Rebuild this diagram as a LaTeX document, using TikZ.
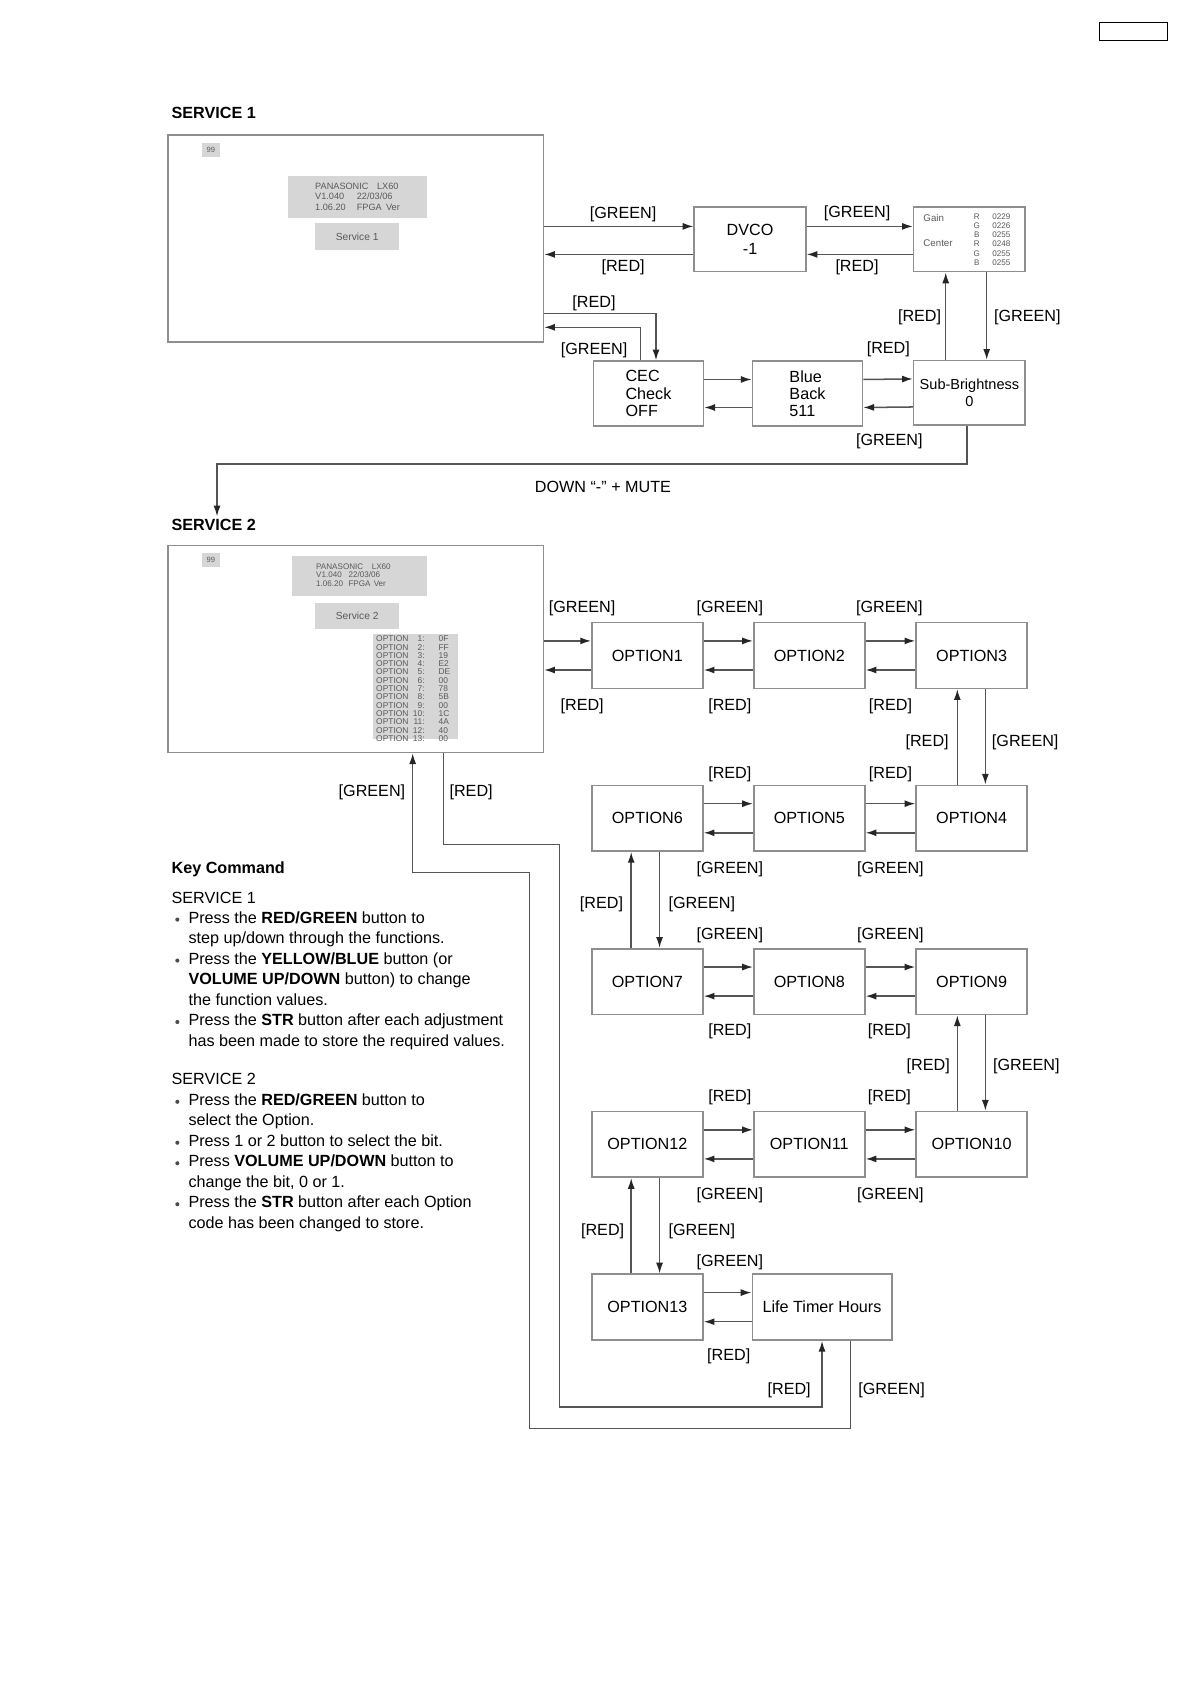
\documentclass[tikz,border=0pt]{standalone}
\usepackage{fontspec}
\setmainfont{Liberation Sans}
\usetikzlibrary{arrows.meta,calc}
\definecolor{boxgray}{HTML}{8E8E8E}
\definecolor{linegray}{HTML}{555555}
\definecolor{panelfill}{HTML}{D6D6D6}
\definecolor{paneltext}{HTML}{5A5A5A}
\newcommand{\fsz}[1]{\fontsize{#1}{#1}\selectfont}
\begin{document}
\begin{tikzpicture}[x=1pt,y=-1pt,
  box/.style={draw=boxgray, line width=1.5pt, fill=white, inner sep=0pt, minimum width=103pt, minimum height=61pt, align=center, font=\fontsize{15}{17.5}\selectfont, text=black},
  screen/.style={draw=boxgray, line width=1.5pt, fill=white, minimum width=348pt, minimum height=192pt, inner sep=0pt},
  panel/.style={fill=panelfill, draw=none, inner sep=0pt, text=paneltext},
  ptext/.style={text=paneltext, inner sep=0pt, anchor=west},
  lab/.style={inner sep=0pt, font=\fsz{15}, text height=10.7pt, text depth=0pt},
  kc/.style={lab, anchor=west},
  ttl/.style={inner sep=0pt, text height=10.7pt, text depth=0pt, anchor=west, font=\bfseries\fsz{15}},
  bul/.style={circle, fill=black!70, inner sep=0pt, minimum size=3.8pt},
  conn/.style={draw=linegray, line width=1.4pt},
  arr/.style={conn, -{Latex[length=10pt,width=6.5pt,color=black!85]}},
]
\useasboundingbox (0,0) rectangle (1104.7,1563);
\fill[white] (0,0) rectangle (1104.7,1563);

% top-right tag
\node[draw=black, line width=1.2pt, minimum width=63.4pt, minimum height=17pt, inner sep=0pt] (tag) at (1051.4,29.2) {};

% ================= SERVICE 1 =================
\node[ttl] (t1) at (159,104.5) {SERVICE 1};
\node[screen] (scr1) at (330,221) {};
\node[panel, minimum width=17pt, minimum height=13pt, font=\fsz{7}] (p99a) at (195.5,139.5) {99};
\node[panel, minimum width=128.3pt, minimum height=38.6pt] (verA) at (331.65,182.6) {};
\node[ptext, font=\fsz{8.5}] (vA1) at (292.2,172.5) {PANASONIC\hspace{8pt}LX60};
\node[ptext, font=\fsz{8.5}] (vA2) at (292.2,182.4) {\makebox[38.6pt][l]{V1.040}22/03/06};
\node[ptext, font=\fsz{8.5}] (vA3) at (292.2,192.3) {\makebox[38.6pt][l]{1.06.20}FPGA\hspace{4pt}Ver};
\node[panel, minimum width=78.2pt, minimum height=24.8pt, font=\fsz{9.5}] (svA) at (331.3,219.5) {Service 1};

\node[box, minimum width=103.5pt, minimum height=60pt] (dvco) at (695.75,222) {DVCO\\-1};
\node[box, minimum width=103.5pt, minimum height=60pt] (gain) at (899.25,222) {};
\node[ptext, font=\fsz{9}] (gA) at (856.4,202.5) {Gain};
\node[ptext, font=\fsz{9}] (gC) at (856.4,225.7) {Center};
\node[inner sep=0pt, anchor=north west, text=paneltext, font=\fontsize{7.5}{8.5}\selectfont] (gV) at (903,197.4)
  {\begin{tabular}{@{}c@{\hspace{11.5pt}}c@{}}R&0229\\G&0226\\B&0255\\R&0248\\G&0255\\B&0255\end{tabular}};

\node[box, align=left, minimum width=102pt, minimum height=60pt, font=\fontsize{15}{16}\selectfont] (cec) at (601.5,365) {CEC\\Check\\OFF};
\node[box, align=left, minimum width=102pt, minimum height=60pt, font=\fontsize{15}{16}\selectfont] (blue) at (749,365) {Blue\\Back\\511};
\node[box, minimum width=103.5pt, minimum height=60pt, font=\fontsize{13.5}{16}\selectfont] (sub) at (899.25,364.5) {Sub-Brightness\\0};

% service 1 connectors
\draw[arr] ($(scr1.east|-dvco.west)+(0,-12)$) -- ($(dvco.west)+(0,-12)$);
\draw[arr] ($(dvco.west)+(0,14)$) -- ($(scr1.east|-dvco.west)+(0,14)$);
\draw[arr] ($(dvco.east)+(0,-12)$) -- ($(gain.west)+(0,-12)$);
\draw[arr] ($(gain.west)+(0,14)$) -- ($(dvco.east)+(0,14)$);
\draw[arr] ($(cec.east)+(0,-13)$) -- ($(blue.west)+(0,-13)$);
\draw[arr] ($(blue.west)+(0,13)$) -- ($(cec.east)+(0,13)$);
\draw[arr] ($(blue.east)+(0,-13)$) -- ($(sub.west)+(0,-13)$);
\draw[arr] ($(sub.west)+(0,13)$) -- ($(blue.east)+(0,13)$);
\draw[arr] ($(scr1.east)+(0,69.6)$) -| ($(cec.north)+(7,0)$);
\draw[arr] ($(cec.north)+(-7.3,0)$) |- ($(scr1.east)+(0,82.6)$);
\draw[arr] ($(sub.north)+(-22,0)$) -- ($(gain.south)+(-22,0)$);
\draw[arr] ($(gain.south)+(16,0)$) -- ($(sub.north)+(16,0)$);

\coordinate (s2turn) at (201.3,430.5);
\coordinate (s2in) at (201.3,479);
\draw[arr] ($(sub.south)+(-2.5,0)$) |- (s2turn) -- (s2in);
\node[lab, anchor=west] (down) at (496,451.5) {DOWN “-” + MUTE};

% ================= SERVICE 2 =================
\node[ttl] (t2) at (159,486.5) {SERVICE 2};
\node[screen] (scr2) at (330,602) {};
\node[panel, minimum width=17pt, minimum height=13pt, font=\fsz{7}] (p99b) at (195.5,519.7) {99};
\node[panel, minimum width=125.3pt, minimum height=37.1pt] (verB) at (333.15,534.25) {};
\node[ptext, font=\fsz{7.5}] (vB1) at (293.1,525.6) {PANASONIC\hspace{8pt}LX60};
\node[ptext, font=\fsz{7.5}] (vB2) at (293.1,533.3) {\makebox[30pt][l]{V1.040}22/03/06};
\node[ptext, font=\fsz{7.5}] (vB3) at (293.1,541.1) {\makebox[30pt][l]{1.06.20}FPGA\hspace{3pt}Ver};
\node[panel, minimum width=78.2pt, minimum height=24.7pt, font=\fsz{9.5}] (svB) at (331.3,571.4) {Service 2};
\node[panel, minimum width=79.4pt, minimum height=97.7pt] (optl) at (385.4,636.95) {};
\node[inner sep=0pt, anchor=north west, text=paneltext, font=\fontsize{7.8}{7.55}\selectfont] (optv) at (348.8,589.6)
  {\begin{tabular}{@{}p{34pt}@{}r@{\hspace{13pt}}l@{}}
   OPTION&1:&0F\\ OPTION&2:&FF\\ OPTION&3:&19\\ OPTION&4:&E2\\ OPTION&5:&DE\\
   OPTION&6:&00\\ OPTION&7:&78\\ OPTION&8:&5B\\ OPTION&9:&00\\ OPTION&10:&1C\\
   OPTION&11:&4A\\ OPTION&12:&40\\ OPTION&13:&00\end{tabular}};

\node[box] (o1) at (600.5,608) {OPTION1};
\node[box] (o2) at (750.7,608) {OPTION2};
\node[box] (o3) at (901.3,608) {OPTION3};
\node[box] (o6) at (600.5,759) {OPTION6};
\node[box] (o5) at (750.7,759) {OPTION5};
\node[box] (o4) at (901.3,759) {OPTION4};
\node[box] (o7) at (600.5,910.5) {OPTION7};
\node[box] (o8) at (750.7,910.5) {OPTION8};
\node[box] (o9) at (901.3,910.5) {OPTION9};
\node[box] (o12) at (600.5,1061.5) {OPTION12};
\node[box] (o11) at (750.7,1061.5) {OPTION11};
\node[box] (o10) at (901.3,1061.5) {OPTION10};
\node[box] (o13) at (600.5,1212.5) {OPTION13};
\node[box, minimum width=129.3pt] (lt) at (762.5,1212.5) {Life Timer Hours};

% screen <-> option1
\draw[arr] ($(scr2.east|-o1.west)+(0,-13.5)$) -- ($(o1.west)+(0,-13.5)$);
\draw[arr] ($(o1.west)+(0,13.5)$) -- ($(scr2.east|-o1.west)+(0,13.5)$);
% horizontal pairs
\foreach \a/\b in {o1/o2,o2/o3,o6/o5,o5/o4,o7/o8,o8/o9,o12/o11,o11/o10,o13/lt}{
  \draw[arr] ($(\a.east)+(0,-13.5)$) -- ($(\b.west)+(0,-13.5)$);
  \draw[arr] ($(\b.west)+(0,13.5)$) -- ($(\a.east)+(0,13.5)$);
}
% vertical pairs, right column
\foreach \a/\b in {o3/o4,o9/o10}{
  \draw[arr] ($(\b.north)+(-13.3,0)$) -- ($(\a.south)+(-13.3,0)$);
  \draw[arr] ($(\a.south)+(12.7,0)$) -- ($(\b.north)+(12.7,0)$);
}
% vertical pairs, left column
\foreach \a/\b in {o6/o7,o12/o13}{
  \draw[arr] ($(\b.north)+(-15,0)$) -- ($(\a.south)+(-15,0)$);
  \draw[arr] ($(\a.south)+(11.3,0)$) -- ($(\b.north)+(11.3,0)$);
}
% loops back to service 2 screen
\draw[arr] ($(lt.south)+(26.5,0)$) |- (491,1325) |- (382.8,809.4) -- ($(scr2.south)+(52.8,0)$);
\draw[arr] ($(scr2.south)+(81.2,0)$) |- (518.8,783.2) |- (762.5,1305) -- (lt.south);

% ================= labels =================
\foreach \x/\y/\t [count=\i] in {
  578/197.5/[GREEN], 578/246.5/[RED], 795/196.5/[GREEN], 795/246.5/[RED],
  551/279.5/[RED], 551/323.5/[GREEN], 853/292.5/[RED], 953/292.5/[GREEN],
  824/322.5/[RED], 825/407.5/[GREEN],
  540/563/[GREEN], 677/563/[GREEN], 825/563/[GREEN],
  540/653.5/[RED], 677/653.5/[RED], 826/653.5/[RED],
  860/687/[RED], 951/687/[GREEN],
  677/716.5/[RED], 826/716.5/[RED],
  345/733.5/[GREEN], 437/733.5/[RED],
  677/805/[GREEN], 826/805/[GREEN],
  558/837.5/[RED], 651/837.5/[GREEN],
  677/866.5/[GREEN], 826/866.5/[GREEN],
  677/955.5/[RED], 825/955.5/[RED],
  861/987.5/[RED], 952/987.5/[GREEN],
  677/1016.5/[RED], 825/1016.5/[RED],
  677/1107/[GREEN], 826/1107/[GREEN],
  559/1140.5/[RED], 651/1140.5/[GREEN],
  677/1169/[GREEN], 676/1257/[RED],
  732/1288/[RED], 827/1288/[GREEN]}{
  \node[lab] (L\i) at (\x,\y) {\t};
}

% ================= key command =================
\node[ttl] (kch) at (159,804.5) {Key Command};
\node[kc] (k0) at (159,832.5) {SERVICE 1};
\node[kc] (k1) at (174.7,851) {Press the \textbf{RED/GREEN} button to};
\node[kc] (k2) at (174.7,870) {step up/down through the functions.};
\node[kc] (k3) at (174.7,889) {Press the \textbf{YELLOW/BLUE} button (or};
\node[kc] (k4) at (174.7,908) {\textbf{VOLUME UP/DOWN} button) to change};
\node[kc] (k5) at (174.7,927) {the function values.};
\node[kc] (k6) at (174.7,946) {Press the \textbf{STR} button after each adjustment};
\node[kc] (k7) at (174.7,965) {has been made to store the required values.};
\node[kc] (k8) at (159,1001) {SERVICE 2};
\node[kc] (k9) at (174.7,1020) {Press the \textbf{RED/GREEN} button to};
\node[kc] (k10) at (174.7,1039) {select the Option.};
\node[kc] (k11) at (174.7,1058) {Press 1 or 2 button to select the bit.};
\node[kc] (k12) at (174.7,1077) {Press \textbf{VOLUME UP/DOWN} button to};
\node[kc] (k13) at (174.7,1096) {change the bit, 0 or 1.};
\node[kc] (k14) at (174.7,1115) {Press the \textbf{STR} button after each Option};
\node[kc] (k15) at (174.7,1134) {code has been changed to store.};
\foreach \y [count=\i] in {853,891,948,1022,1060,1079,1117}{
  \node[bul] (b\i) at (164.5,\y) {};
}
\end{tikzpicture}
\end{document}
